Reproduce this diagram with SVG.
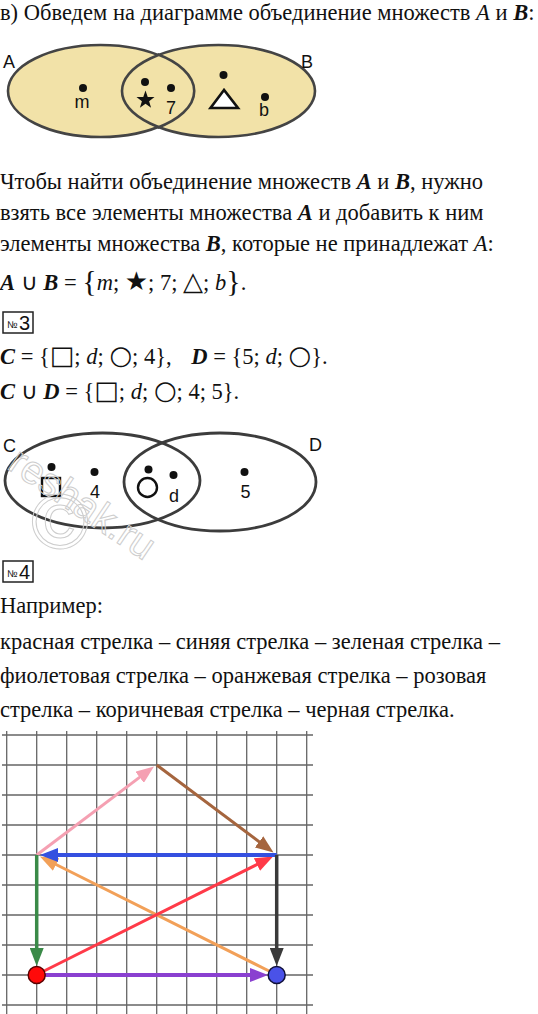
<svg xmlns="http://www.w3.org/2000/svg" width="538" height="1014" viewBox="0 0 538 1014">
<style>
.t{font-family:"Liberation Serif","Times New Roman",serif;font-size:22.5px;fill:#111}
.v{font-style:italic;font-weight:bold}
.i{font-style:italic}
.g{font-family:"DejaVu Sans",sans-serif;font-size:26px}
.s{font-family:"Liberation Sans",Arial,sans-serif;font-size:18px;fill:#111}
.dot{fill:#111}
.ellY{fill:#F2E2A8;stroke:#444;stroke-width:2.6}
.ellW{fill:none;stroke:#3c3c3c;stroke-width:2.8}
.box{fill:none;stroke:#222;stroke-width:1.5}
.nb{font-family:"Liberation Sans Narrow","Liberation Sans",Arial,sans-serif;font-stretch:condensed;fill:#111}
.grid{stroke:#666;stroke-width:1.3;fill:none}
.wm{fill:none;stroke:#cdcdcd;stroke-width:1;font-family:"Liberation Sans",Arial,sans-serif}
</style>
<defs>
<marker id="hRed" viewBox="0 0 18 14" refX="9" refY="7" markerWidth="18" markerHeight="14" markerUnits="userSpaceOnUse" orient="auto"><path d="M0,0 L18,7 L0,14 z" fill="#FF3A48"/></marker>
<marker id="hBlue" viewBox="0 0 18 14" refX="9" refY="7" markerWidth="18" markerHeight="14" markerUnits="userSpaceOnUse" orient="auto"><path d="M0,0 L18,7 L0,14 z" fill="#3550E0"/></marker>
<marker id="hGreen" viewBox="0 0 18 14" refX="9" refY="7" markerWidth="18" markerHeight="14" markerUnits="userSpaceOnUse" orient="auto"><path d="M0,0 L18,7 L0,14 z" fill="#3A8A48"/></marker>
<marker id="hViolet" viewBox="0 0 18 14" refX="9" refY="7" markerWidth="18" markerHeight="14" markerUnits="userSpaceOnUse" orient="auto"><path d="M0,0 L18,7 L0,14 z" fill="#8A40D0"/></marker>
<marker id="hOrange" viewBox="0 0 18 14" refX="9" refY="7" markerWidth="18" markerHeight="14" markerUnits="userSpaceOnUse" orient="auto"><path d="M0,0 L18,7 L0,14 z" fill="#F2A058"/></marker>
<marker id="hPink" viewBox="0 0 18 14" refX="9" refY="7" markerWidth="18" markerHeight="14" markerUnits="userSpaceOnUse" orient="auto"><path d="M0,0 L18,7 L0,14 z" fill="#F5A0B2"/></marker>
<marker id="hBrown" viewBox="0 0 18 14" refX="9" refY="7" markerWidth="18" markerHeight="14" markerUnits="userSpaceOnUse" orient="auto"><path d="M0,0 L18,7 L0,14 z" fill="#A5653E"/></marker>
<marker id="hBlack" viewBox="0 0 18 14" refX="9" refY="7" markerWidth="18" markerHeight="14" markerUnits="userSpaceOnUse" orient="auto"><path d="M0,0 L18,7 L0,14 z" fill="#3a3a3a"/></marker>
</defs>
<rect width="538" height="1014" fill="#fff"/>

<g id="heading-v">
<text class="t" x="0" y="20">в) Обведем на диаграмме объединение множеств <tspan class="i">A</tspan> и <tspan class="v">B</tspan>:</text>
</g>

<g id="venn-AB">
<ellipse class="ellY" cx="100.5" cy="91" rx="92.5" ry="46"/>
<ellipse class="ellY" cx="218.5" cy="91" rx="96.5" ry="46"/>
<path d="M157.5,54.3 A92.5,46 0 0 1 157.5,127.7" fill="none" stroke="#444" stroke-width="2.6"/>
<text class="s" x="3" y="68">A</text>
<text class="s" x="301" y="68">B</text>
<circle class="dot" cx="83" cy="88" r="4"/>
<text class="s" x="82" y="108" text-anchor="middle">m</text>
<circle class="dot" cx="145" cy="82" r="4"/>
<polygon points="145.5,90.5 147.73,96.93 154.53,97.06 149.11,101.17 151.09,107.69 145.5,103.8 139.91,107.69 141.89,101.17 136.47,97.06 143.27,96.93" fill="#111"/>
<circle class="dot" cx="171" cy="88" r="4"/>
<text class="s" x="171" y="114" text-anchor="middle">7</text>
<circle class="dot" cx="223.5" cy="75" r="4"/>
<polygon points="224,90 210.5,108 238,108" fill="#fff" stroke="#111" stroke-width="2.6" stroke-linejoin="miter"/>
<circle class="dot" cx="265" cy="97" r="4"/>
<text class="s" x="264" y="116" text-anchor="middle">b</text>
</g>

<g id="paragraph">
<text class="t" x="0" y="189">Чтобы найти объединение множеств <tspan class="v">A</tspan> и <tspan class="v">B</tspan>, нужно</text>
<text class="t" x="0" y="220">взять все элементы множества <tspan class="v">A</tspan> и добавить к ним</text>
<text class="t" x="0" y="251">элементы множества <tspan class="v">B</tspan>, которые не принадлежат <tspan class="i">A</tspan>:</text>
<text class="t" x="0" y="290"><tspan class="v">A</tspan> ∪ <tspan class="v">B</tspan> = <tspan font-size="30" dy="1">{</tspan><tspan class="i" dy="-1">m</tspan>; <tspan class="g" font-size="24">★</tspan>; 7; <tspan class="g" font-size="28">△</tspan>; <tspan class="i">b</tspan><tspan font-size="30" dy="1">}</tspan><tspan dy="-1">.</tspan></text>
</g>

<g id="task3">
<rect class="box" x="3" y="312" width="30" height="21"/>
<text class="nb" x="7" y="328" font-size="10">№</text>
<text class="nb" x="19" y="329.5" font-size="20">3</text>
<text class="t" x="0" y="364"><tspan class="v">C</tspan> = {<tspan class="g">□</tspan>; <tspan class="i">d</tspan>; <tspan class="g">○</tspan>; 4}, <tspan class="v" dx="14">D</tspan> = {5; <tspan class="i">d</tspan>; <tspan class="g">○</tspan>}.</text>
<text class="t" x="0" y="399"><tspan class="v">C</tspan> ∪ <tspan class="v">D</tspan> = {<tspan class="g">□</tspan>; <tspan class="i">d</tspan>; <tspan class="g">○</tspan>; 4; 5}.</text>
</g>

<g id="venn-CD">
<ellipse class="ellW" cx="102.5" cy="480.5" rx="97.5" ry="47.5"/>
<ellipse class="ellW" cx="220" cy="482" rx="96" ry="49"/>
<text class="s" x="3" y="452">C</text>
<text class="s" x="309" y="451">D</text>
<circle class="dot" cx="51.5" cy="467" r="4"/>
<rect x="42" y="478" width="18" height="18" fill="#fff" stroke="#111" stroke-width="2.4"/>
<circle class="dot" cx="94.5" cy="472" r="4"/>
<text class="s" x="95" y="498" text-anchor="middle">4</text>
<circle class="dot" cx="148.5" cy="469.5" r="4"/>
<circle cx="147.5" cy="487.5" r="9.5" fill="#fff" stroke="#111" stroke-width="2.4"/>
<circle class="dot" cx="173.5" cy="475" r="4"/>
<text class="s" x="174" y="502" text-anchor="middle">d</text>
<circle class="dot" cx="244.5" cy="472" r="4"/>
<text class="s" x="245.5" y="498" text-anchor="middle">5</text>
</g>

<g id="watermark">
<text class="wm" x="6" y="468" font-size="40" transform="rotate(34 6 468)">reshak.ru</text>
<text class="wm" x="60" y="548" font-size="78" text-anchor="middle">©</text>
</g>

<g id="task4">
<rect class="box" x="3" y="561" width="30" height="21"/>
<text class="nb" x="7" y="577" font-size="10">№</text>
<text class="nb" x="19" y="578.5" font-size="20">4</text>
<text class="t" x="0" y="613">Например:</text>
<text class="t" x="0" y="649">красная стрелка – синяя стрелка – зеленая стрелка –</text>
<text class="t" x="0" y="683">фиолетовая стрелка – оранжевая стрелка – розовая</text>
<text class="t" x="0" y="717">стрелка – коричневая стрелка – черная стрелка.</text>
</g>

<g id="grid">
<path class="grid" d="M6.7,731V1014M36.7,731V1014M66.7,731V1014M96.7,731V1014M126.7,731V1014M156.7,731V1014M186.7,731V1014M216.7,731V1014M246.7,731V1014M276.7,731V1014M306.7,731V1014M2,735H313M2,765H313M2,795H313M2,825H313M2,855H313M2,885H313M2,915H313M2,945H313M2,975H313M2,1005H313"/>
</g>

<g id="connectors" fill="none" stroke-linecap="butt">
<line x1="36.7" y1="855" x2="146.8" y2="771.9" stroke="#F5A0B2" stroke-width="3" marker-end="url(#hPink)"/>
<line x1="156.7" y1="765" x2="266.3" y2="847.2" stroke="#A5653E" stroke-width="3" marker-end="url(#hBrown)"/>
<line x1="269" y1="971" x2="48" y2="860.5" stroke="#F2A058" stroke-width="3" marker-end="url(#hOrange)"/>
<line x1="44" y1="971" x2="265" y2="860.5" stroke="#FF3A48" stroke-width="3" marker-end="url(#hRed)"/>
<line x1="276.7" y1="855" x2="49" y2="855" stroke="#3550E0" stroke-width="4" marker-end="url(#hBlue)"/>
<line x1="36.7" y1="855" x2="36.7" y2="957" stroke="#3A8A48" stroke-width="3.5" marker-end="url(#hGreen)"/>
<line x1="276.7" y1="855" x2="276.7" y2="957" stroke="#3a3a3a" stroke-width="3.5" marker-end="url(#hBlack)"/>
<line x1="45" y1="975" x2="259" y2="975" stroke="#8A40D0" stroke-width="4" marker-end="url(#hViolet)"/>
</g>

<g id="point-red"><circle cx="36.7" cy="975" r="8.5" fill="#FF0a0a" stroke="#5a0000" stroke-width="1.5"/></g>
<g id="point-blue"><circle cx="276.7" cy="975" r="8.5" fill="#4A52E8" stroke="#10103a" stroke-width="1.5"/></g>
</svg>
